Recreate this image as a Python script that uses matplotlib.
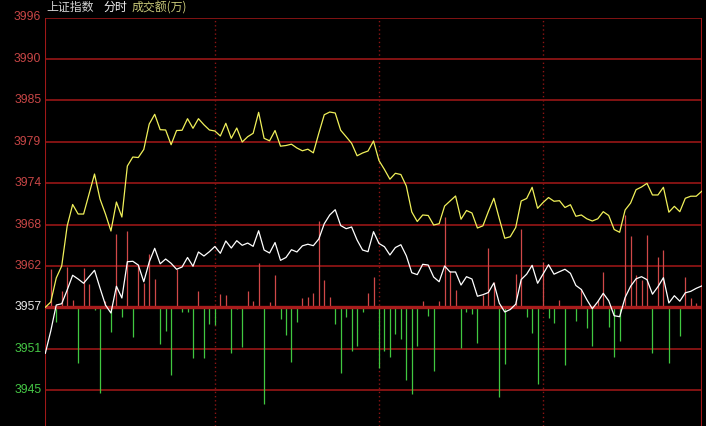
import matplotlib
matplotlib.use('Agg')
import matplotlib.pyplot as plt
import numpy as np

# prev close and grid step of the price axis
prev_close = 3956.57
step = 5.65

tick_labels_up = ['3962', '3968', '3974', '3979', '3985', '3990', '3996']
tick_label_mid = '3957'
tick_labels_down = ['3951', '3945']

# yellow line (index average)
avg_line = [
    3956.57, 3957.29, 3960.57, 3962.21, 3967.67, 3970.60, 3969.30, 3969.30, 3972.03, 3974.76,
    3971.35, 3969.30, 3966.98, 3970.94, 3968.89, 3975.85, 3977.08, 3977.01, 3978.11, 3981.58,
    3982.91, 3980.81, 3980.77, 3978.76, 3980.70, 3980.73, 3982.31, 3981.00, 3982.31, 3981.48,
    3980.77, 3980.63, 3979.95, 3981.68, 3979.63, 3981.04, 3979.13, 3979.85, 3980.32, 3983.18,
    3979.63, 3979.29, 3980.70, 3978.56, 3978.65, 3978.83, 3978.31, 3977.93, 3978.15, 3977.65,
    3980.32, 3982.85, 3983.22, 3983.09, 3980.73, 3979.85, 3978.95, 3977.25, 3977.63, 3977.90,
    3979.27, 3976.60, 3975.38, 3974.05, 3974.86, 3974.69, 3973.12, 3969.58, 3968.28, 3969.17,
    3969.10, 3967.80, 3967.98, 3970.39, 3971.08, 3971.76, 3968.59, 3969.78, 3969.44, 3967.39,
    3967.69, 3969.64, 3971.45, 3968.66, 3965.99, 3966.20, 3967.46, 3971.08, 3971.42, 3972.95,
    3970.08, 3970.87, 3971.55, 3971.04, 3971.12, 3970.19, 3970.57, 3968.99, 3969.17, 3968.65,
    3968.35, 3968.65, 3969.62, 3969.10, 3967.19, 3966.81, 3969.85, 3970.80, 3972.62, 3972.99,
    3973.49, 3971.90, 3971.90, 3972.95, 3969.55, 3970.35, 3969.62, 3971.45, 3971.73, 3971.73,
    3972.40,
]

# white line (index)
price_line = [
    3950.29, 3953.34, 3956.88, 3957.06, 3958.93, 3960.94, 3960.43, 3959.85, 3960.75, 3961.62,
    3959.20, 3956.88, 3955.79, 3959.44, 3957.84, 3962.79, 3962.85, 3962.34, 3960.06, 3962.75,
    3964.62, 3962.51, 3963.16, 3962.57, 3961.76, 3962.07, 3963.37, 3962.17, 3964.12, 3963.57,
    3964.16, 3964.87, 3963.94, 3965.62, 3964.66, 3965.66, 3965.03, 3965.34, 3964.89, 3967.02,
    3964.39, 3963.98, 3965.41, 3962.98, 3963.37, 3964.43, 3964.12, 3964.96, 3965.18, 3964.98,
    3965.89, 3967.98, 3969.17, 3969.89, 3967.73, 3967.30, 3967.53, 3965.75, 3964.39, 3964.16,
    3966.89, 3965.28, 3964.84, 3963.71, 3964.73, 3965.11, 3963.60, 3961.29, 3961.03, 3962.44,
    3962.34, 3960.70, 3960.06, 3962.21, 3961.39, 3961.39, 3959.61, 3960.75, 3960.43, 3958.08,
    3958.29, 3958.59, 3959.89, 3957.12, 3955.93, 3956.27, 3956.99, 3960.36, 3961.09, 3962.30,
    3959.85, 3961.11, 3962.38, 3961.09, 3961.43, 3961.76, 3961.21, 3959.55, 3959.00, 3957.61,
    3956.38, 3957.33, 3958.48, 3957.46, 3955.42, 3955.29, 3957.91, 3959.44, 3960.46, 3960.75,
    3960.34, 3958.36, 3959.38, 3960.61, 3957.16, 3958.15, 3957.40, 3958.55, 3958.75, 3959.16,
    3959.48,
]

# up(+)/down(-) bars drawn from the middle line
bars = [
    0, 38, -15, 16, 40, 7, -56, 39, 23, -3,
    -86, 6, -25, 73, -10, 76, -30, 41, 24, 53,
    28, -37, -24, -68, 38, -5, -5, -51, 16, -51,
    -17, -18, 13, 12, -46, -2, -40, 16, 6, 44,
    -97, 5, 32, -12, -28, -55, -15, 9, 10, 14,
    86, 27, 10, -17, -66, -10, -44, -39, -5, 14,
    30, -61, -44, -50, -27, -32, -73, -87, -39, 6,
    -9, -64, 6, 90, 36, 17, -41, -5, -7, -36,
    12, 59, 25, -90, -57, 0, 33, 78, -10, -26,
    -77, 45, -11, -16, 7, -58, 1, -14, 18, -21,
    -39, 7, 35, -20, -50, -34, 92, 71, 32, 27,
    72, -46, 50, 57, -56, 0, -29, 30, 9, 4,
    19,
]
bar_scale = step / 41.4  # bar unit -> price unit

hour_marks = [31, 61, 91]

W, H = 706, 426
fig = plt.figure(figsize=(W / 100, H / 100), dpi=100, facecolor='black')
ax = fig.add_axes([45.3 / W, 0, 656.4 / W, 408.5 / H], facecolor='black')
for s in ax.spines.values():
    s.set_visible(False)
ax.set_xticks([])
ax.set_yticks([])

n = len(price_line)
x = np.arange(n)
ax.set_xlim(0, n - 1)
ax.set_ylim(prev_close - 2.867 * step, prev_close + 7 * step)

grid_col = '#8c1414'
for k in range(-2, 8):
    if k != 0:
        ax.axhline(prev_close + k * step, color=grid_col, lw=1.3, zorder=1)
ax.axvline(0, color='#a01818', lw=1.5, zorder=1)
ax.axvline(n - 1, color='#a01818', lw=1.5, zorder=1)
for m in hour_marks:
    ax.axvline(m, color='#8c1414', lw=1.0, ls=(0, (1, 2)), zorder=1)

# bars
b = np.array(bars) * bar_scale
up = b > 0
dn = b < 0
ax.vlines(x[up], prev_close, prev_close + b[up], color='#d04848', lw=0.9, zorder=2)
ax.vlines(x[dn], prev_close + b[dn], prev_close, color='#40c840', lw=0.9, zorder=2)
ax.axhline(prev_close, color='#a81c1c', lw=2.4, zorder=3)

ax.plot(x, avg_line, color='#f0f05a', lw=0.9, zorder=4)
ax.plot(x, price_line, color='white', lw=0.9, zorder=5)

# y labels
num_font = dict(family='Liberation Sans', fontsize=8.7)
for k, lab in enumerate(tick_labels_up, start=1):
    ax.text(-0.75, prev_close + k * step, lab, ha='right', va='center',
            color='#c84646', clip_on=False, **num_font)
ax.text(-0.75, prev_close, tick_label_mid, ha='right', va='center',
        color='#e6e6e6', clip_on=False, **num_font)
for k, lab in enumerate(tick_labels_down, start=1):
    ax.text(-0.75, prev_close - k * step, lab, ha='right', va='center',
            color='#46c846', clip_on=False, **num_font)

# header
cjk = ['Noto Sans CJK SC', 'DejaVu Sans']
fig.text(46.5 / W, 1 - 7.5 / H, '上证指数', family=cjk, fontsize=8.6,
         color='#d2d2d2', va='center', ha='left')
fig.text(104 / W, 1 - 7.5 / H, '分时', family=cjk, fontsize=8.6,
         color='#f0f0f0', va='center', ha='left')
fig.text(131.5 / W, 1 - 7.5 / H, '成交额(万)', family=cjk, fontsize=8.6,
         color='#c8c878', va='center', ha='left')

fig.savefig('out.png', dpi=100, facecolor='black')
